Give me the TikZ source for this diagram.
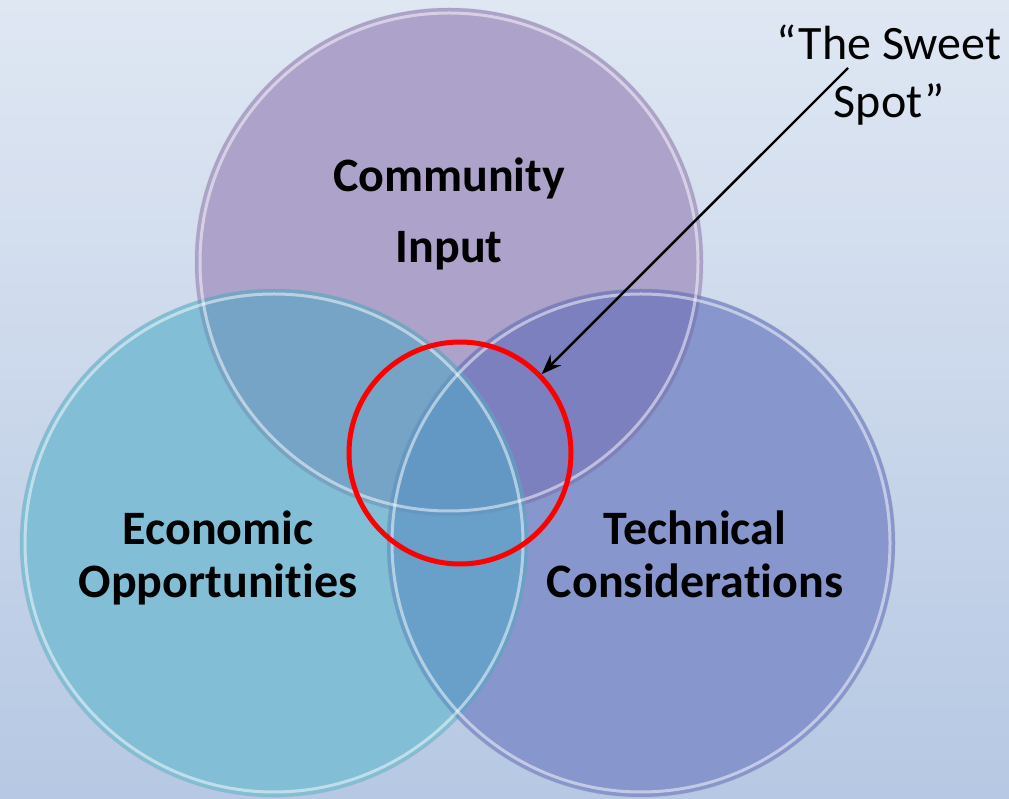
\documentclass[tikz,border=0pt]{standalone}
\usepackage{fontspec}
\setmainfont{Carlito}[Ligatures=CommonOff]
\usetikzlibrary{arrows.meta}
\definecolor{bgtop}{RGB}{223,231,243}
\definecolor{bgbot}{RGB}{182,200,227}
\definecolor{colT}{RGB}{172,162,202}
\definecolor{colL}{RGB}{130,190,214}
\definecolor{colR}{RGB}{135,150,204}
\definecolor{colTL}{RGB}{118,164,198}
\definecolor{colTR}{RGB}{125,128,190}
\definecolor{colLR}{RGB}{104,160,201}
\definecolor{colTLR}{RGB}{99,152,196}
\tikzset{
  lbl/.style={font=\fontsize{48}{58}\selectfont\bfseries, anchor=base, inner sep=0pt},
  note/.style={font=\fontsize{48}{58}\selectfont, anchor=base, inner sep=0pt},
  rim/.style={draw=white, draw opacity=0.5, line width=3pt},
  edge/.style={draw=black!40, draw opacity=0.2, line width=1pt},
  spot/.style={circle, draw=red, line width=5pt, minimum size=222pt, inner sep=0pt},
  pointer/.style={draw=black, line width=2.4pt, -{Stealth[length=20pt,width=15pt]}}
}
\begin{document}
\begin{tikzpicture}[x=1pt,y=1pt]
\def\rad{254}
\useasboundingbox (0,0) rectangle (1009,798);
\shade[top color=bgtop, bottom color=bgbot] (0,0) rectangle (1009,798);
\coordinate (cT) at (449,536);
\coordinate (cL) at (274,255);
\coordinate (cR) at (641,255);
% base fills
\fill[colT] (cT) circle (\rad);
\fill[colL] (cL) circle (\rad);
\fill[colR] (cR) circle (\rad);
% pairwise overlaps
\begin{scope}
  \clip (cT) circle (\rad);
  \fill[colTL] (cL) circle (\rad);
  \fill[colTR] (cR) circle (\rad);
\end{scope}
\begin{scope}
  \clip (cL) circle (\rad);
  \fill[colLR] (cR) circle (\rad);
\end{scope}
\begin{scope}
  \clip (cT) circle (\rad);
  \clip (cL) circle (\rad);
  \fill[colTLR] (cR) circle (\rad);
\end{scope}
% rims
\foreach \c in {cT,cL,cR}{
  \draw[edge] (\c) circle (\rad);
  \draw[rim] (\c) circle (\rad-5);
}
% labels
\node[lbl] (comm) at (449,606) {Community};
\node[lbl] (inp) at (449,535) {Input};
\node[lbl] (econ) at (218,253) {Economic};
\node[lbl] (opp) at (218,200) {Opportunities};
\node[lbl] (tech) at (695,253) {Technical};
\node[lbl] (cons) at (695,200) {Considerations};
\node[note] (sweet) at (889,738) {“The Sweet};
\node[note] (spotl) at (889,680) {Spot”};
% sweet spot circle and pointer
\node[spot] (red) at (460,345) {};
\coordinate (pstart) at (848,730);
\draw[pointer] (pstart) -- (red.44);
\end{tikzpicture}
\end{document}
